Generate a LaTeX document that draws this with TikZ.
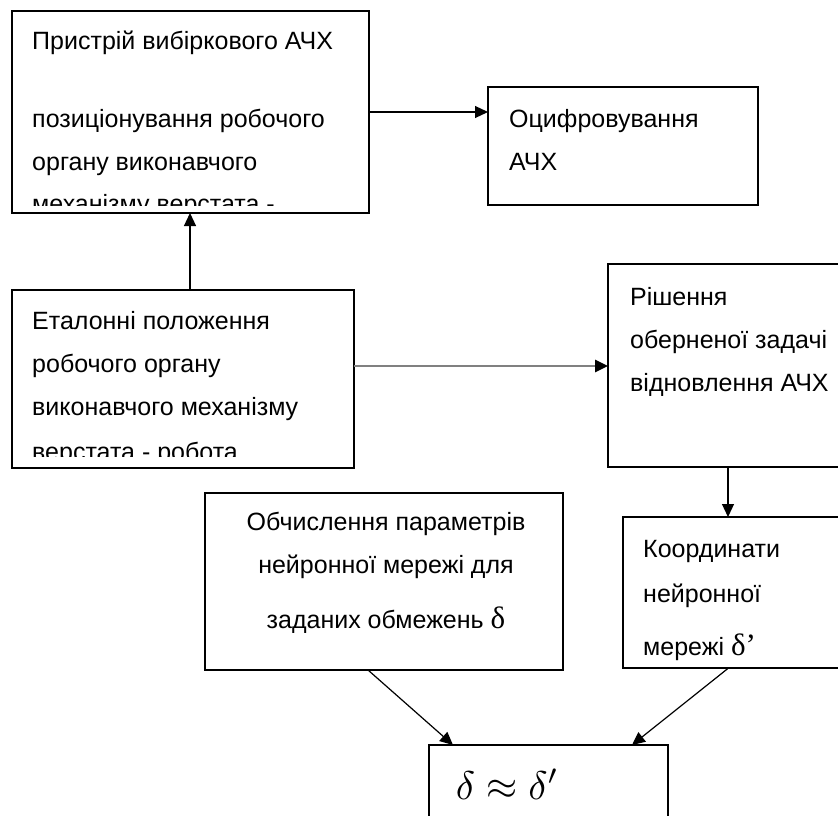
\documentclass[tikz,border=0pt]{standalone}
\usepackage{fontspec}
\setmainfont{Liberation Sans}
\newfontfamily\serifd{Liberation Serif}
\usetikzlibrary{arrows.meta}
\tikzset{
  box/.style={draw, line width=1.2pt, anchor=north west, inner sep=0pt, outer sep=0pt},
  txt/.style={font=\fontsize{25pt}{43pt}\selectfont, anchor=base west, inner sep=0pt},
  ctxt/.style={txt, anchor=base},
  arr/.style={line width=1.2pt, -{Triangle[length=13pt,width=12pt]}},
  grayarr/.style={draw=black!50, line width=2.6pt, -{Triangle[length=13pt,width=12pt,color=black]}},
}
\begin{document}
\begin{tikzpicture}[x=1pt,y=-1pt]
\clip (0,0) rectangle (838,816);
\fill[white] (0,0) rectangle (838,816);
% boxes
\node[box, minimum width=357pt, minimum height=202pt] (b1) at (12,11) {};
\node[box, minimum width=270pt, minimum height=118pt] (b2) at (488,87) {};
\node[box, minimum width=342pt, minimum height=178pt] (b3) at (12,290) {};
\node[box, minimum width=240pt, minimum height=203pt] (b4) at (608,264) {};
\node[box, minimum width=358pt, minimum height=177pt] (b5) at (205,493) {};
\node[box, minimum width=227pt, minimum height=151pt] (b6) at (623,517) {};
\node[box, minimum width=239pt, minimum height=100pt] (fin) at (429,745) {};
% texts of box 1 (clipped by the frame)
\begin{scope}
\clip (12,11) rectangle (369,205);
\node[txt] (t1a) at (32,50) {Пристрій вибіркового АЧХ};
\node[txt] (t1b) at (32,127) {позиціонування робочого};
\node[txt] (t1c) at (32,170) {органу виконавчого};
\node[txt] (t1d) at (32,212) {механізму верстата -};
\end{scope}
% box 2
\node[txt] (t2a) at (509,127) {Оцифровування};
\node[txt] (t2b) at (509,170) {АЧХ};
% box 3 (clipped)
\begin{scope}
\clip (12,290) rectangle (354,456);
\node[txt] (t3a) at (32,329) {Еталонні положення};
\node[txt] (t3b) at (32,372) {робочого органу};
\node[txt] (t3c) at (32,415) {виконавчого механізму};
\node[txt] (t3d) at (32,460) {верстата - робота};
\end{scope}
% box 4
\node[txt] (t4a) at (630,305) {Рішення};
\node[txt] (t4b) at (630,348) {оберненої задачі};
\node[txt] (t4c) at (630,391) {відновлення АЧХ};
% box 5
\node[ctxt] (t5a) at (386,530) {Обчислення параметрів};
\node[ctxt] (t5b) at (386,573) {нейронної мережі для};
\node[ctxt] (t5c) at (386,628) {заданих обмежень {\serifd\fontsize{31pt}{32pt}\selectfont δ}};
% box 6
\node[txt] (t6a) at (643,557) {Координати};
\node[txt] (t6b) at (643,602) {нейронної};
\node[txt] (t6c) at (643,655) {мережі {\serifd\fontsize{31pt}{32pt}\selectfont δ’}};
% final
\node[txt, font=\fontsize{10pt}{12pt}\selectfont, scale=4] (t7) at (455,799) {$\delta\approx\delta'$};
% connectors
\draw[arr] (b1.east) -- (b1.east -| b2.west);
\draw[arr] ([xshift=7pt]b3.north) -- ([xshift=7pt]b3.north |- b1.south);
\draw[grayarr] ([yshift=13pt]b3.east) -- ([yshift=13pt]b3.east -| b4.west);
\draw[arr] (b4.south) -- (b4.south |- b6.north);
\draw[arr] ([xshift=-16pt]b5.south) -- ([xshift=24pt]fin.north west);
\draw[arr] ([xshift=-8pt]b6.south) -- ([xshift=-36pt]fin.north east);
\end{tikzpicture}
\end{document}
